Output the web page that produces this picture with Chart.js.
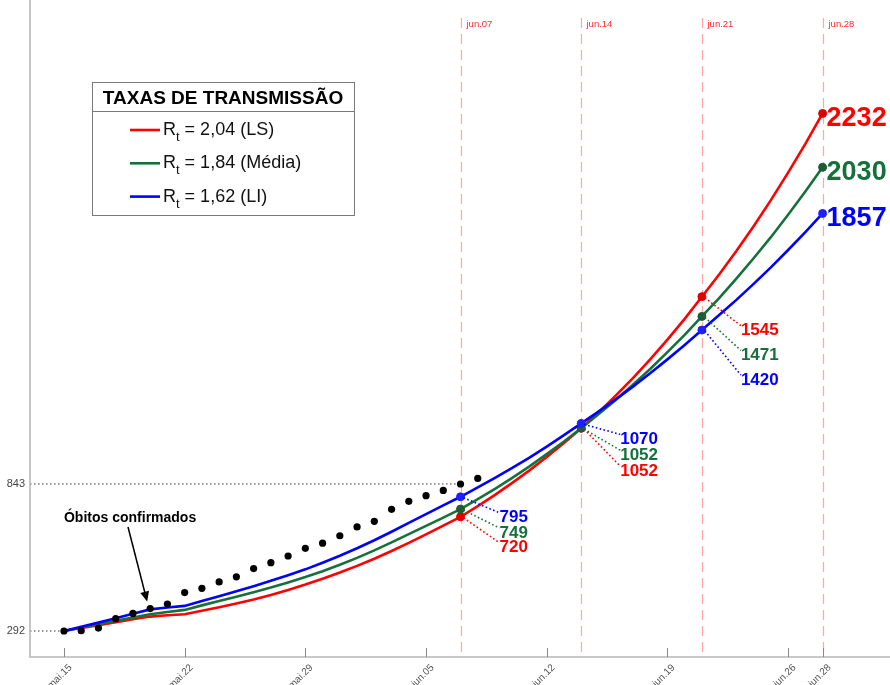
<!DOCTYPE html>
<html>
<head>
<meta charset="utf-8">
<script src="https://cdn.jsdelivr.net/npm/chart.js@4/dist/chart.umd.min.js"></script>
<style>
  html, body { margin: 0; padding: 0; background: #fff; }
  #wrap { width: 890px; height: 685px; }
</style>
</head>
<body>
<div id="wrap"><canvas id="chart" width="890" height="685"></canvas></div>
<script>
// days counted from mai.15
const days = Array.from({ length: 45 }, (_, i) => i);

const obitos = [292, 293, 303, 338, 358, 376, 393, 436, 452, 476, 495, 526, 548, 573,
  602, 621, 649, 682, 703, 748, 778, 799, 819, 843, 864];

const redLS = [292, 303, 314, 325, 336, 346, 351, 355, 368, 381, 395, 410, 427, 446, 466,
  488, 511, 536, 563, 592, 622, 654, 687, 720, 760, 802, 847, 894, 944, 997, 1052, 1111,
  1174, 1240, 1310, 1384, 1462, 1545, 1628, 1716, 1809, 1907, 2010, 2118, 2232];
const greenMedia = [292, 305, 317, 330, 342, 355, 363, 371, 388, 404, 420, 437, 455, 474,
  494, 516, 540, 566, 594, 624, 655, 686, 717, 749, 786, 825, 866, 909, 955, 1002, 1052,
  1104, 1158, 1215, 1274, 1337, 1402, 1471, 1540, 1613, 1689, 1768, 1852, 1939, 2030];
const blueLI = [292, 308, 324, 340, 357, 373, 380, 386, 404, 422, 441, 460, 480, 501, 523,
  548, 574, 602, 632, 664, 697, 730, 763, 795, 830, 866, 903, 942, 983, 1026, 1070, 1114,
  1160, 1208, 1258, 1310, 1364, 1420, 1476, 1533, 1593, 1655, 1720, 1787, 1857];

const tickDays = [0, 7, 14, 21, 28, 35, 42, 44];
const tickLabels = ['mai.15', 'mai.22', 'mai.29', 'jun.05', 'jun.12', 'jun.19', 'jun.26', 'jun.28'];
const markDays = [23, 30, 37, 44];
const markLabels = ['jun.07', 'jun.14', 'jun.21', 'jun.28'];
const yTicks = [292, 843];

const legendTitle = 'TAXAS DE TRANSMISSÃO';
const legendItems = [' = 2,04 (LS)', ' = 1,84 (Média)', ' = 1,62 (LI)'];

const RED = '#ff0000', GREEN = '#16703b', BLUE = '#0000ff';
const FONT = '"Liberation Sans", Arial, Helvetica, sans-serif';

function pts(vals) {
  return vals.map((v, i) => ({ x: days[i], y: v }));
}

function modelSet(label, vals, color, marker, order) {
  return {
    label, data: pts(vals), order,
    borderColor: color, borderWidth: 2.6, tension: 0, fill: false,
    pointRadius: c => markDays.includes(c.dataIndex) ? 4 : 0,
    pointBackgroundColor: marker, pointBorderColor: marker, pointBorderWidth: 1
  };
}

// label offsets (px) relative to marker, per milestone: [red, green, blue]
const leaderOffsets = [
  [30, 23, 20],
  [42, 26, 15],
  [33, 38, 49]
];

const decor = {
  id: 'decor',
  beforeDatasetsDraw(chart) {
    const { ctx, chartArea: a, scales: { x, y } } = chart;
    ctx.save();
    // red dashed milestone lines
    ctx.strokeStyle = 'rgba(255,60,60,0.45)';
    ctx.lineWidth = 1.2;
    ctx.setLineDash([10, 6]);
    markDays.forEach((d, i) => {
      const px = Math.round(x.getPixelForValue(d)) + 0.5;
      ctx.beginPath(); ctx.moveTo(px, 18); ctx.lineTo(px, a.bottom); ctx.stroke();
      ctx.fillStyle = '#ff2a2a';
      ctx.font = '9.5px ' + FONT;
      ctx.textBaseline = 'middle';
      ctx.textAlign = 'left';
      ctx.fillText(markLabels[i], px + 5, 24);
    });
    // dotted y guides
    ctx.setLineDash([1.5, 2.5]);
    ctx.strokeStyle = '#333';
    ctx.lineWidth = 1;
    yTicks.forEach(v => {
      const py = y.getPixelForValue(v);
      const px = x.getPixelForValue(days[obitos.indexOf(v)]);
      ctx.beginPath(); ctx.moveTo(a.left, py); ctx.lineTo(px, py); ctx.stroke();
      ctx.fillStyle = '#444';
      ctx.font = '11px ' + FONT;
      ctx.textAlign = 'right';
      ctx.textBaseline = 'middle';
      ctx.fillText(String(v), 25, py);
    });
    ctx.setLineDash([]);
    // axes
    ctx.strokeStyle = '#b8b8b8';
    ctx.lineWidth = 1.6;
    ctx.beginPath();
    ctx.moveTo(a.left, a.top); ctx.lineTo(a.left, a.bottom); ctx.lineTo(a.right, a.bottom);
    ctx.stroke();
    // x ticks and rotated labels
    ctx.strokeStyle = '#888';
    ctx.lineWidth = 1;
    tickDays.forEach((d, i) => {
      const px = Math.round(x.getPixelForValue(d)) + 0.5;
      ctx.beginPath(); ctx.moveTo(px, a.bottom - 9); ctx.lineTo(px, a.bottom); ctx.stroke();
      ctx.save();
      ctx.translate(px + 6, a.bottom + 9);
      ctx.rotate(-Math.PI / 4);
      ctx.fillStyle = '#555';
      ctx.font = '10px ' + FONT;
      ctx.textAlign = 'right';
      ctx.textBaseline = 'middle';
      ctx.fillText(tickLabels[i], 0, 0);
      ctx.restore();
    });
    ctx.restore();
  },
  afterDraw(chart) {
    const { ctx, scales: { x, y } } = chart;
    const series = [[redLS, RED], [greenMedia, GREEN], [blueLI, BLUE]];
    ctx.save();
    // leader lines and values for the first three milestones
    markDays.slice(0, 3).forEach((d, m) => {
      const px = x.getPixelForValue(d);
      series.forEach(([vals, col], s) => {
        const py = y.getPixelForValue(vals[d]);
        const ly = py + leaderOffsets[m][s];
        ctx.strokeStyle = col;
        ctx.lineWidth = 1.6;
        ctx.setLineDash([1.6, 2.4]);
        ctx.beginPath(); ctx.moveTo(px + 3, py + 1); ctx.lineTo(px + 39, ly - 4); ctx.stroke();
        ctx.setLineDash([]);
        ctx.fillStyle = col;
        ctx.font = 'bold 17px ' + FONT;
        ctx.textAlign = 'left';
        ctx.textBaseline = 'middle';
        ctx.fillText(String(vals[d]), px + 39, ly + 1);
      });
    });
    // final values
    const last = markDays[3];
    series.forEach(([vals, col]) => {
      const px = x.getPixelForValue(last);
      const py = y.getPixelForValue(vals[last]);
      ctx.fillStyle = col;
      ctx.font = 'bold 27px ' + FONT;
      ctx.textAlign = 'left';
      ctx.textBaseline = 'middle';
      ctx.fillText(String(vals[last]), px + 4, py + 5);
    });

    // legend box
    const bx = 92, by = 82, bw = 262, bh = 133;
    ctx.fillStyle = '#fff';
    ctx.fillRect(bx, by, bw, bh);
    ctx.strokeStyle = '#7a7a7a';
    ctx.lineWidth = 1;
    ctx.strokeRect(bx + 0.5, by + 0.5, bw, bh);
    ctx.beginPath(); ctx.moveTo(bx, by + 29.5); ctx.lineTo(bx + bw, by + 29.5); ctx.stroke();
    ctx.fillStyle = '#000';
    ctx.font = 'bold 19px ' + FONT;
    ctx.textAlign = 'center';
    ctx.textBaseline = 'alphabetic';
    ctx.fillText(legendTitle, bx + bw / 2, by + 22);
    series.forEach(([vals, col], i) => {
      const ry = 135 + i * 33.3;
      ctx.strokeStyle = col;
      ctx.lineWidth = 2.6;
      ctx.beginPath(); ctx.moveTo(130, ry - 5); ctx.lineTo(160, ry - 5); ctx.stroke();
      ctx.fillStyle = '#111';
      ctx.textAlign = 'left';
      ctx.font = '18px ' + FONT;
      ctx.fillText('R', 163, ry);
      let tx = 163 + ctx.measureText('R').width;
      ctx.font = '13px ' + FONT;
      ctx.fillText('t', tx, ry + 6);
      tx += ctx.measureText('t').width;
      ctx.font = '18px ' + FONT;
      ctx.fillText(legendItems[i], tx, ry);
    });

    // annotation with arrow
    const ax = x.getPixelForValue(days[5]) - 3;
    const ay = y.getPixelForValue(obitos[5]) - 7;
    ctx.fillStyle = '#000';
    ctx.font = 'bold 14px ' + FONT;
    ctx.textAlign = 'left';
    ctx.textBaseline = 'middle';
    ctx.fillText('Óbitos confirmados', x.getPixelForValue(days[0]), 518);
    const sx = 128, sy = 527;
    const ang = Math.atan2(ay - sy, ax - sx);
    ctx.strokeStyle = '#000';
    ctx.lineWidth = 1.5;
    ctx.beginPath(); ctx.moveTo(sx, sy); ctx.lineTo(ax - 6 * Math.cos(ang), ay - 6 * Math.sin(ang)); ctx.stroke();
    ctx.beginPath();
    ctx.moveTo(ax, ay);
    ctx.lineTo(ax - 10 * Math.cos(ang) + 4.5 * Math.sin(ang), ay - 10 * Math.sin(ang) - 4.5 * Math.cos(ang));
    ctx.lineTo(ax - 10 * Math.cos(ang) - 4.5 * Math.sin(ang), ay - 10 * Math.sin(ang) + 4.5 * Math.cos(ang));
    ctx.closePath();
    ctx.fill();
    ctx.restore();
  }
};

new Chart(document.getElementById('chart'), {
  type: 'line',
  data: {
    datasets: [
      {
        label: 'Óbitos confirmados', data: pts(obitos), order: 0, showLine: false,
        pointRadius: 3.6, pointBackgroundColor: '#000', pointBorderColor: '#000', borderWidth: 0
      },
      modelSet('Rt = 1,62 (LI)', blueLI, BLUE, '#2020ff', 1),
      modelSet('Rt = 1,84 (Média)', greenMedia, GREEN, '#1f5c35', 2),
      modelSet('Rt = 2,04 (LS)', redLS, RED, '#e00000', 3)
    ]
  },
  options: {
    responsive: false,
    animation: false,
    layout: { autoPadding: false, padding: { left: 30, right: 0, top: 0, bottom: 28 } },
    plugins: { legend: { display: false }, tooltip: { enabled: false } },
    scales: {
      x: { type: 'linear', min: -1.97, max: 47.91, display: false },
      y: { type: 'linear', min: 194.5, max: 2657, display: false }
    }
  },
  plugins: [decor]
});
</script>
</body>
</html>
